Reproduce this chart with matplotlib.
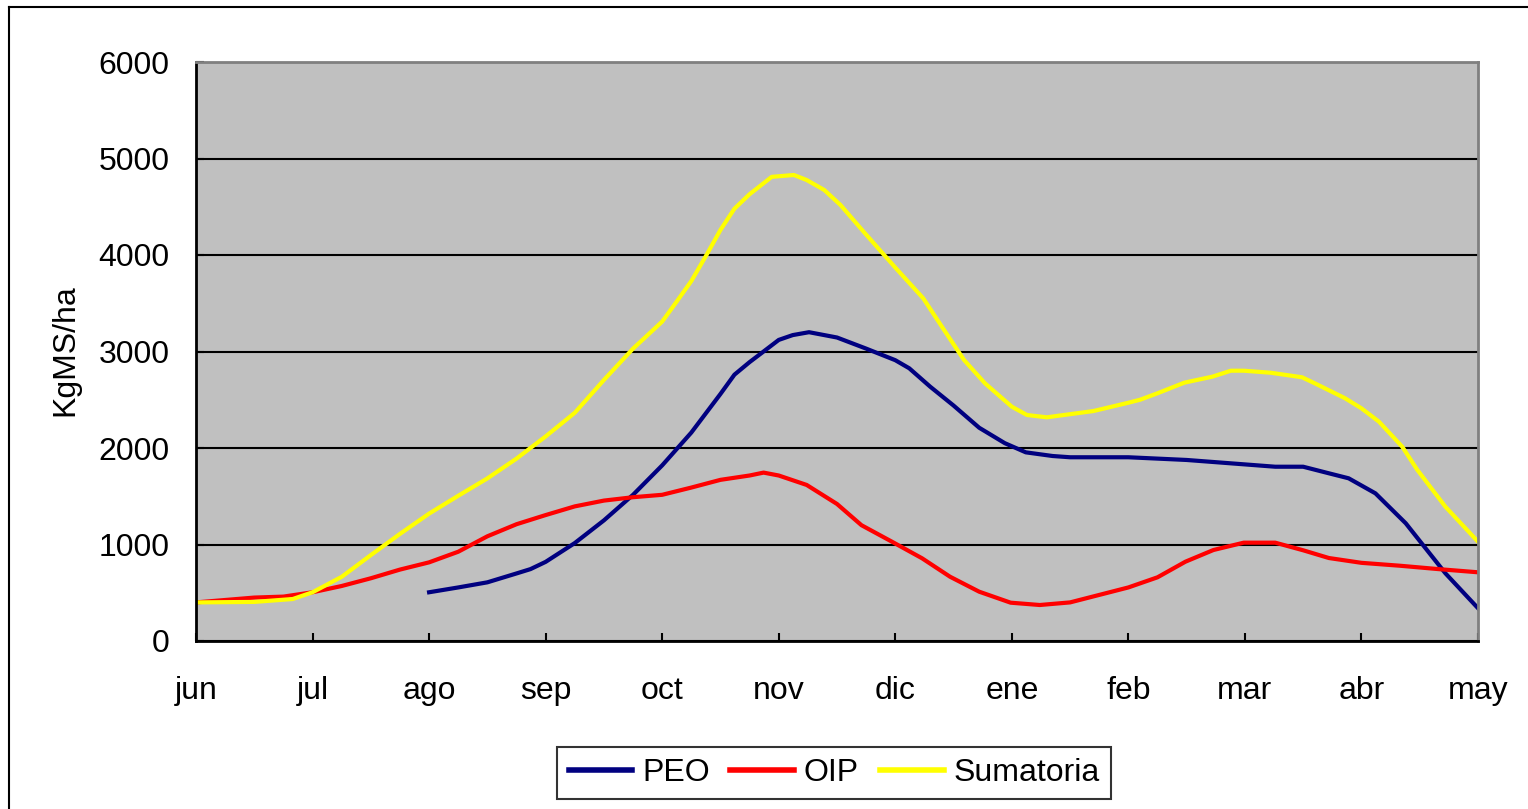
import matplotlib
matplotlib.use("Agg")
import matplotlib.pyplot as plt
from matplotlib.lines import Line2D

plt.rcParams['font.family'] = ['Liberation Sans', 'DejaVu Sans']

months = ['jun', 'jul', 'ago', 'sep', 'oct', 'nov', 'dic', 'ene', 'feb', 'mar', 'abr', 'may']
y_ticks = [0, 1000, 2000, 3000, 4000, 5000, 6000]

# PEO (month position, KgMS/ha)
peo_x = [2.0, 2.25, 2.5, 2.75, 2.87, 3.0, 3.25, 3.5, 3.75, 4.0, 4.25, 4.5, 4.62, 4.75, 4.87,
         5.0, 5.12, 5.26, 5.5, 5.75, 6.0, 6.12, 6.3, 6.5, 6.72, 6.94, 7.12, 7.35, 7.5, 8.0,
         8.5, 9.0, 9.26, 9.5, 9.72, 9.89, 10.12, 10.38, 10.72, 11.0]
peo_y = [505, 555, 608, 700, 745, 820, 1015, 1250, 1515, 1820, 2160, 2560, 2760, 2890, 3000,
         3120, 3170, 3200, 3145, 3030, 2910, 2826, 2635, 2440, 2210, 2050, 1955, 1917, 1904, 1904,
         1876, 1830, 1806, 1806, 1738, 1686, 1530, 1220, 702, 340]

# OIP
oip_x = [0.0, 0.5, 0.75, 1.0, 1.25, 1.5, 1.75, 2.0, 2.25, 2.5, 2.75, 3.0, 3.25, 3.5, 3.75,
         4.0, 4.25, 4.5, 4.75, 4.87, 5.0, 5.24, 5.5, 5.71, 5.97, 6.23, 6.47, 6.72, 6.99, 7.24,
         7.5, 8.0, 8.25, 8.49, 8.73, 8.99, 9.26, 9.5, 9.72, 10.0, 10.33, 10.66, 11.0]
oip_y = [400, 450, 460, 505, 570, 650, 740, 815, 925, 1085, 1210, 1305, 1395, 1455, 1490,
         1515, 1590, 1670, 1715, 1745, 1715, 1617, 1420, 1200, 1030, 857, 666, 511, 397, 373,
         400, 555, 660, 822, 943, 1019, 1019, 940, 860, 810, 780, 745, 712]

# Sumatoria
sum_x = [0.0, 0.5, 0.83, 1.0, 1.25, 1.5, 1.75, 2.0, 2.25, 2.5, 2.75, 3.0, 3.25, 3.5, 3.75,
         4.0, 4.12, 4.25, 4.38, 4.5, 4.62, 4.75, 4.94, 5.13, 5.24, 5.39, 5.53, 5.74, 6.0, 6.24,
         6.4, 6.59, 6.77, 7.0, 7.13, 7.3, 7.7, 8.0, 8.1, 8.25, 8.48, 8.72, 8.88, 8.99, 9.22,
         9.49, 9.6, 9.86, 10.0, 10.15, 10.35, 10.48, 10.72, 11.0]
sum_y = [400, 405, 435, 505, 665, 890, 1110, 1320, 1505, 1685, 1890, 2120, 2365, 2705, 3030,
         3310, 3510, 3730, 4000, 4260, 4480, 4630, 4810, 4829, 4777, 4674, 4518, 4225, 3870, 3551,
         3257, 2912, 2670, 2428, 2342, 2318, 2383, 2469, 2500, 2567, 2677, 2739, 2801, 2801, 2780,
         2733, 2670, 2515, 2411, 2273, 2013, 1772, 1392, 1029]

W, H = 1528, 809
fig = plt.figure(figsize=(W / 100, H / 100), dpi=100)
fig.patch.set_facecolor('white')

L, R, T, B = 196, 1478, 62, 641
ax = fig.add_axes([L / W, 1 - B / H, (R - L) / W, (B - T) / H])
ax.set_facecolor('#C0C0C0')

lw = 3.0
ax.plot(peo_x, peo_y, color='#000080', lw=lw, label='PEO', solid_joinstyle='round')
ax.plot(oip_x, oip_y, color='#FF0000', lw=lw, label='OIP', solid_joinstyle='round')
ax.plot(sum_x, sum_y, color='#FFFF00', lw=lw, label='Sumatoria', solid_joinstyle='round')

ax.set_xlim(0, 11)
ax.set_ylim(0, 6000)
ax.set_xticks(range(len(months)))
ax.set_xticklabels(months)
ax.set_yticks(y_ticks)
ax.set_yticklabels([str(v) for v in y_ticks])

ax.set_axisbelow(True)
ax.yaxis.grid(True, color='black', lw=1.5)
ax.xaxis.grid(False)

for s in ['left', 'bottom']:
    ax.spines[s].set_color('black')
    ax.spines[s].set_linewidth(2)
for s in ['top', 'right']:
    ax.spines[s].set_color('#808080')
    ax.spines[s].set_linewidth(2)

fs = 23
ax.tick_params(axis='both', direction='in', length=6, width=1.5, color='black', labelsize=fs)
ax.tick_params(axis='x', pad=25)
ax.tick_params(axis='y', pad=19)

fig.text(65 / W, 1 - 350 / H, 'KgMS/ha', rotation=90, ha='center', va='center', fontsize=fs)

leg = fig.legend(loc='center', bbox_to_anchor=(834 / W, 1 - 773 / H), ncol=3, fontsize=fs,
                 frameon=True, fancybox=False, handlelength=2.0, handletextpad=0.3,
                 columnspacing=0.65, borderpad=0.35)
leg.get_frame().set_edgecolor('black')
leg.get_frame().set_linewidth(1.5)
for h in leg.get_lines():
    h.set_linewidth(4)

# outer chart frame (left and top edges visible)
fig.add_artist(Line2D([9 / W, 9 / W], [0, 1 - 7 / H], color='black', lw=1.5, transform=fig.transFigure))
fig.add_artist(Line2D([9 / W, 1], [1 - 7 / H, 1 - 7 / H], color='black', lw=1.5, transform=fig.transFigure))

fig.savefig('out.png', dpi=100)
